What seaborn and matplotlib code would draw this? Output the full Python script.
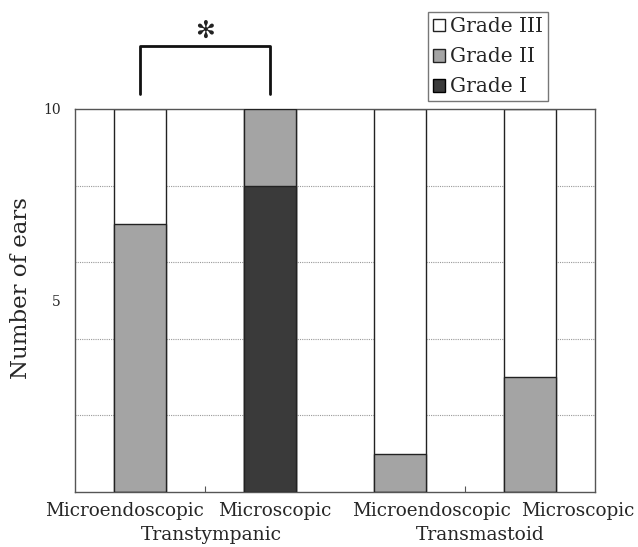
import matplotlib
matplotlib.use("Agg")
import matplotlib.pyplot as plt
import seaborn as sns
import pandas as pd
import numpy as np
from matplotlib.patches import Patch

methods = ["Microendoscopic", "Microscopic", "Microendoscopic", "Microscopic"]
groups = ["Transtympanic", "Transmastoid"]
grade1 = [0, 8, 0, 0]
grade2 = [7, 2, 1, 3]
grade3 = [3, 0, 9, 7]
bar_ids = ["TT-ME", "TT-MS", "TM-ME", "TM-MS"]

# layout: label centres (data x units) as set in the reference
method_label_x = [-0.12, 1.035, 2.24, 3.365]
group_label_x = [0.55, 2.62]

sns.set_theme(style="white")
plt.rcParams["font.family"] = ["DejaVu Serif"]

df = pd.DataFrame({
    "bar": bar_ids,
    "g1": grade1,
    "g12": np.array(grade1) + np.array(grade2),
    "total": np.array(grade1) + np.array(grade2) + np.array(grade3),
})

fig = plt.figure(figsize=(6.38, 5.47), dpi=100)
ax = fig.add_axes([75/638, 55/547, 520/638, 383/547])

for y in [2, 4, 6, 8]:
    ax.axhline(y, color="#999999", linestyle=(0, (1, 1)), linewidth=0.8, zorder=0)

c3, c2, c1 = "#ffffff", "#a4a4a4", "#3a3a3a"
sns.barplot(data=df, x="bar", y="total", color=c3, edgecolor="#222222",
            linewidth=1.0, width=0.4, ax=ax, saturation=1, zorder=2)
sns.barplot(data=df, x="bar", y="g12", color=c2, edgecolor="#222222",
            linewidth=1.0, width=0.4, ax=ax, saturation=1, zorder=3)
sns.barplot(data=df, x="bar", y="g1", color=c1, edgecolor="#222222",
            linewidth=1.0, width=0.4, ax=ax, saturation=1, zorder=4)

ax.set_xlim(-0.5, 3.5)
ax.set_ylim(0, 10)
ax.set_yticks([5, 10])
ax.set_yticklabels(["5", "10"], fontsize=10)
ax.set_xticks(range(4))
ax.set_xticklabels([""] * 4)
ax.set_xticks([0.5, 2.5], minor=True)
ax.tick_params(axis="both", which="major", length=0)
ax.tick_params(axis="x", which="minor", bottom=True, direction="in",
               length=4, width=0.8, color="#555555")
ax.tick_params(axis="y", pad=10)
ax.set_xlabel("")
ax.set_ylabel("Number of ears", fontsize=16.5)
ax.yaxis.set_label_coords(-0.083, 0.533)
for s in ax.spines.values():
    s.set_color("#555555")
    s.set_linewidth(1.0)

xtr = ax.get_xaxis_transform()
for xpos, m in zip(method_label_x, methods):
    ax.text(xpos, -0.05, m, transform=xtr, ha="center", va="center",
            fontsize=13.2)
for xpos, g in zip(group_label_x, groups):
    ax.text(xpos, -0.113, g, transform=xtr, ha="center", va="center",
            fontsize=13.5)

# significance bracket
ax.plot([0, 0, 1, 1], [1.04, 1.165, 1.165, 1.04], color="#111111",
        linewidth=2, transform=xtr, clip_on=False)
ax.text(0.5, 1.203, "\u273b", transform=xtr, ha="center", va="center",
        fontsize=17, family=["DejaVu Sans"], color="#222222")

handles = [Patch(facecolor=c3, edgecolor="#222222", label="Grade III"),
           Patch(facecolor=c2, edgecolor="#222222", label="Grade II"),
           Patch(facecolor=c1, edgecolor="black", label="Grade I")]
leg = ax.legend(handles=handles, loc="lower left", bbox_to_anchor=(353/520, 1.02),
                fontsize=14.5, frameon=True, fancybox=False, handlelength=0.6,
                handleheight=0.6, handletextpad=0.25, borderpad=0.25,
                labelspacing=0.55, borderaxespad=0)
leg.get_frame().set_edgecolor("#555555")
leg.get_frame().set_linewidth(1.0)

fig.savefig("out.png", dpi=100)
